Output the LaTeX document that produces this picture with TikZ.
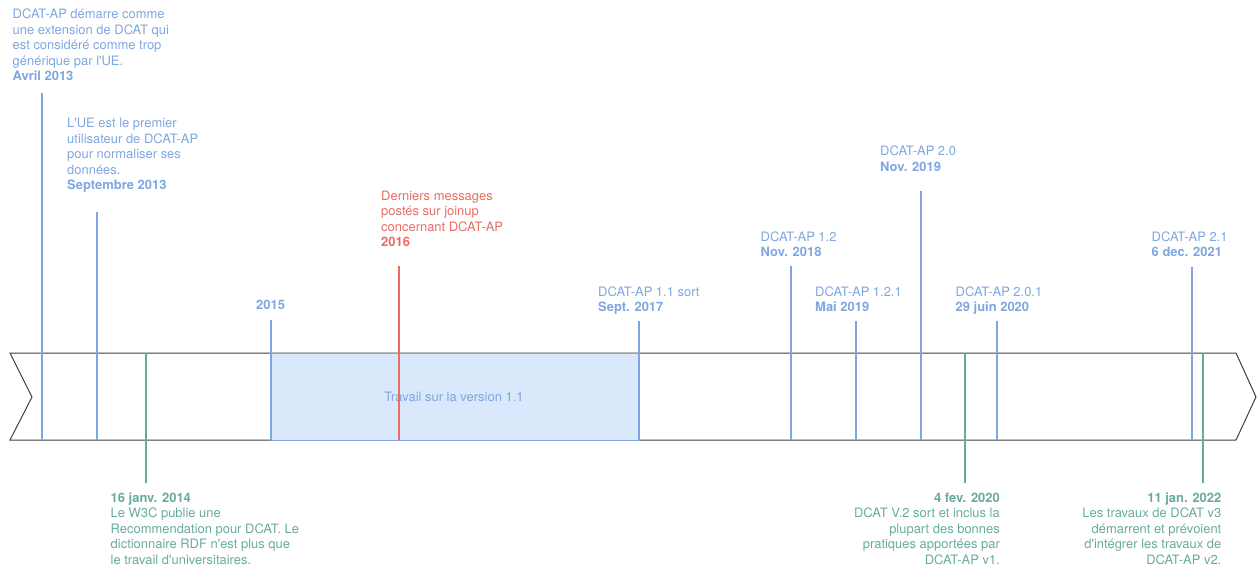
\documentclass[tikz,border=0pt]{standalone}
\usepackage{fontspec}
\setmainfont{TeX Gyre Heros}
\definecolor{tblue}{HTML}{7EA6E0}
\definecolor{tgreen}{HTML}{67AB9F}
\definecolor{tred}{HTML}{EA6B66}
\definecolor{tfill}{HTML}{DAE8FC}
\newcommand\lcol[1]{\begin{tabular}[t]{@{}l@{}}#1\end{tabular}}
\newcommand\rcol[1]{\begin{tabular}[t]{@{}r@{}}#1\end{tabular}}
\newcommand\q{\textquotesingle}
\begin{document}
\begin{tikzpicture}[x=1pt,y=-1pt,
  lbl/.style={inner sep=0pt, font=\fontsize{12.95}{15.4}\selectfont},
  lblL/.style={lbl, anchor=base west},
  lblR/.style={lbl, anchor=base east},
  tick/.style={line width=2pt},
  band/.style={draw=black!75, line width=1pt, fill=white, line join=miter},
  period/.style={draw=tblue, fill=tfill, line width=1.2pt}]
\useasboundingbox (0,0) rectangle (1257,569);
% timeline band
\draw[band] (10,353) -- (1236,353) -- (1256,397) -- (1236,440) -- (10,440) -- (32,397) -- cycle;
\node[period, minimum width=368pt, minimum height=87pt, inner sep=0pt, anchor=north west] (work) at (271,353) {};
\node[lbl, text=tblue, anchor=center] (worklbl) at (454,397) {Travail sur la version 1.1};
% tick coordinates
\coordinate (aT) at (42,93);   \coordinate (aB) at (42,440);
\coordinate (bT) at (97,212);  \coordinate (bB) at (97,440);
\coordinate (cT) at (146,353); \coordinate (cB) at (146,483);
\coordinate (dT) at (271,320); \coordinate (dB) at (271,440);
\coordinate (eT) at (399,266); \coordinate (eB) at (399,440);
\coordinate (fT) at (639,321); \coordinate (fB) at (639,440);
\coordinate (gT) at (791,266); \coordinate (gB) at (791,440);
\coordinate (hT) at (856,321); \coordinate (hB) at (856,440);
\coordinate (iT) at (921,191); \coordinate (iB) at (921,440);
\coordinate (jT) at (965,353); \coordinate (jB) at (965,483);
\coordinate (kT) at (997,321); \coordinate (kB) at (997,440);
\coordinate (lT) at (1192,267);\coordinate (lB) at (1192,440);
\coordinate (mT) at (1203,353);\coordinate (mB) at (1203,483);
\foreach \p in {a,b,d,f,g,h,i,k,l} {\draw[tick, tblue] (\p T) -- (\p B);}
\foreach \p in {c,j,m} {\draw[tick, tgreen] (\p T) -- (\p B);}
\draw[tick, tred] (eT) -- (eB);
% labels
\node[lblL, text=tblue] (la) at (12.5,19) {\lcol{DCAT-AP démarre comme\\une extension de DCAT qui\\est considéré comme trop\\générique par l\q UE.\\\textbf{Avril 2013}}};
\node[lblL, text=tblue] (lb) at (67,128) {\lcol{L\q UE est le premier\\utilisateur de DCAT-AP\\pour normaliser ses\\données.\\\textbf{Septembre 2013}}};
\node[lblL, text=tred] (le) at (381,200.5) {\lcol{Derniers messages\\postés sur joinup\\concernant DCAT-AP\\\textbf{2016}}};
\node[lblL, text=tblue] (ld) at (256,309) {\textbf{2015}};
\node[lblL, text=tblue] (lf) at (598,296.5) {\lcol{DCAT-AP 1.1 sort\\\textbf{Sept. 2017}}};
\node[lblL, text=tblue] (lg) at (760.5,241.5) {\lcol{DCAT-AP 1.2\\\textbf{Nov. 2018}}};
\node[lblL, text=tblue] (lh) at (815,296.5) {\lcol{DCAT-AP 1.2.1\\\textbf{Mai 2019}}};
\node[lblL, text=tblue] (li) at (880,156) {\lcol{DCAT-AP 2.0\\\textbf{Nov. 2019}}};
\node[lblL, text=tblue] (lk) at (955.5,296.5) {\lcol{DCAT-AP 2.0.1\\\textbf{29 juin 2020}}};
\node[lblL, text=tblue] (ll) at (1151.5,241.5) {\lcol{DCAT-AP 2.1\\\textbf{6 dec. 2021}}};
\node[lblL, text=tgreen] (lc) at (110.5,502.5) {\lcol{\textbf{16 janv. 2014}\\Le W3C publie une\\Recommendation pour DCAT. Le\\dictionnaire RDF n\q est plus que\\le travail d\q universitaires.}};
\node[lblR, text=tgreen] (lj) at (1000,502.5) {\rcol{\textbf{4 fev. 2020}\\DCAT V.2 sort et inclus la\\plupart des bonnes\\pratiques apportées par\\DCAT-AP v1.}};
\node[lblR, text=tgreen] (lm) at (1221.5,502.5) {\rcol{\textbf{11 jan. 2022}\\Les travaux de DCAT v3\\démarrent et prévoient\\d\q intégrer les travaux de\\DCAT-AP v2.}};
\end{tikzpicture}
\end{document}
